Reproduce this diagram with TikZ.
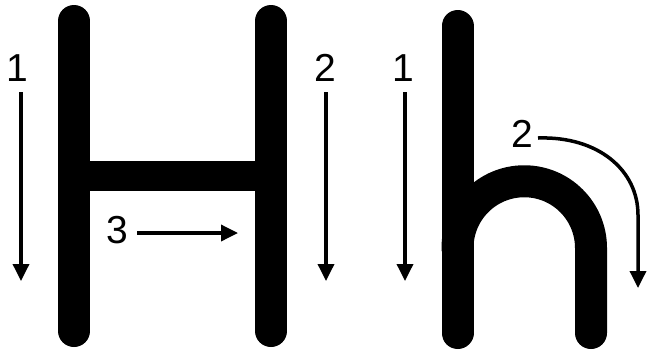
\documentclass[tikz,border=0pt]{standalone}
\usepackage{fontspec}
\setmainfont{Liberation Sans}
\usetikzlibrary{arrows.meta}
\begin{document}
\begin{tikzpicture}[x=1pt,y=-1pt,
  letter/.style={line width=32pt, line cap=round, draw=black},
  guide/.style={line width=3.5pt, draw=black, -{Triangle[length=17pt,width=16pt]}},
  num/.style={font=\fontsize{39}{39}\selectfont, inner sep=0pt}]
\useasboundingbox (0,0) rectangle (653,354);
% H
\draw[letter] (74,21) -- (74,331);
\draw[letter] (271,21) -- (271,331);
\draw[line width=30pt, draw=black] (74,176) -- (271,176);
% h
\draw[letter] (457.5,26) -- (457.5,333);
\draw[letter] (457.5,248) arc[start angle=180, end angle=360, radius=66.75] -- (591,333);
% labels
\node[num] (n1) at (17,68) {1};
\node[num] (n2) at (325,68) {2};
\node[num] (n3) at (117,230) {3};
\node[num] (m1) at (403,68) {1};
\node[num] (m2) at (522,134) {2};
% arrows
\coordinate (a1s) at (21,92); \coordinate (a1e) at (21,281);
\coordinate (a2s) at (326,92); \coordinate (a2e) at (326,281);
\coordinate (b1s) at (405,92); \coordinate (b1e) at (405,281);
\coordinate (a3s) at (137,233); \coordinate (a3e) at (238,233);
\coordinate (b2s) at (538,138); \coordinate (b2e) at (638,288);
\draw[guide] (a1s) -- (a1e);
\draw[guide] (a2s) -- (a2e);
\draw[guide] (b1s) -- (b1e);
\draw[guide] (a3s) -- (a3e);
\draw[guide] (b2s) .. controls (598,136) and (638,170) .. (638,215) -- (b2e);
\end{tikzpicture}
\end{document}
